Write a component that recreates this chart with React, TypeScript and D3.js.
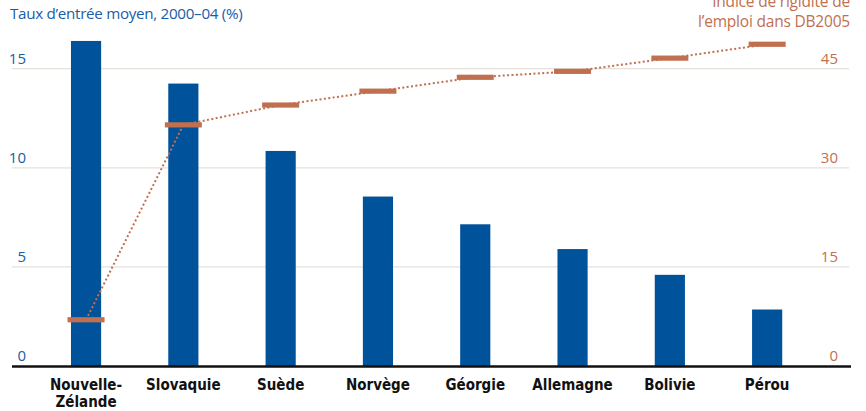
import React from "react";
import * as d3 from "d3";

const categories = ["Nouvelle-Zélande", "Slovaquie", "Suède", "Norvège", "Géorgie", "Allemagne", "Bolivie", "Pérou"];
const labelLines = [["Nouvelle-", "Zélande"], ["Slovaquie"], ["Suède"], ["Norvège"], ["Géorgie"], ["Allemagne"], ["Bolivie"], ["Pérou"]];
const entryRate = [16.4, 14.25, 10.85, 8.55, 7.15, 5.9, 4.6, 2.85];
const rigidityIndex = [7, 36.5, 39.5, 41.6, 43.7, 44.6, 46.6, 48.7];
const leftTicks = [0, 5, 10, 15];
const rightTicks = [0, 15, 30, 45];
const leftTitle = "Taux d’entrée moyen, 2000–04 (%)";
const rightTitle = ["Indice de rigidité de", "l’emploi dans DB2005"];

const W = 866;
const H = 411;
const BLUE = "#00529b";
const TXTBLUE = "#1a5ca6";
const ORANGE = "#c0704f";

export default function App() {
  const x = d3.scaleBand<string>().domain(categories).range([37.4, 815.8]).paddingInner(0.69).paddingOuter(0.345);
  const yL = d3.scaleLinear().domain([0, 15]).range([366, 68.7]);
  const yR = d3.scaleLinear().domain([0, 45]).range([366, 68.7]);
  const cx = (c: string) => (x(c) as number) + x.bandwidth() / 2;
  const line = d3.line<number>().x((_, i) => cx(categories[i])).y((d) => yR(d));
  const mw = 37;

  return (
    <svg width={W} height={H} style={{ position: "absolute", left: 0, top: 0, display: "block" }}>
      <rect width={W} height={H} fill="#fff" />
      {leftTicks.slice(1).map((t) => (
        <line key={t} x1={12} x2={849} y1={yL(t)} y2={yL(t)} stroke="#e6e0da" strokeWidth={1.2} />
      ))}
      {categories.map((c, i) => (
        <rect key={c} x={x(c)} y={yL(entryRate[i])} width={x.bandwidth()} height={yL(0) - yL(entryRate[i])} fill={BLUE} />
      ))}
      <line x1={12} x2={851} y1={366.5} y2={366.5} stroke="#111" strokeWidth={2.6} />
      <path d={line(rigidityIndex) || ""} fill="none" stroke={ORANGE} strokeWidth={2} strokeDasharray="2 2.4" />
      {categories.map((c, i) => (
        <rect key={c} x={cx(c) - mw / 2} y={yR(rigidityIndex[i]) - 2.6} width={mw} height={5.2} fill={ORANGE} />
      ))}
      <g fontFamily="'Open Sans', sans-serif" fontSize={15}>
        {leftTicks.map((t) => (
          <text key={t} x={26} y={yL(t) - 5} textAnchor="end" fill={TXTBLUE}>{t}</text>
        ))}
        {rightTicks.map((t) => (
          <text key={t} x={838} y={yR(t) - 5} textAnchor="end" fill={ORANGE}>{t}</text>
        ))}
        <text x={10} y={19} fill={TXTBLUE} fontSize={15.2} letterSpacing={-0.3}>{leftTitle}</text>
        <text x={850} y={7} textAnchor="end" fill={ORANGE} fontSize={15.5} letterSpacing={-0.2}>{rightTitle[0]}</text>
        <text x={850} y={27} textAnchor="end" fill={ORANGE} fontSize={15.5} letterSpacing={-0.2}>{rightTitle[1]}</text>
      </g>
      <g fontFamily="'DejaVu Sans Condensed', 'DejaVu Sans', sans-serif" fontWeight="bold" fontSize={15} fill="#111" textAnchor="middle">
        {categories.map((c, i) =>
          labelLines[i].map((l, j) => (
            <text key={c + j} x={cx(c)} y={390 + j * 17}>{l}</text>
          ))
        )}
      </g>
    </svg>
  );
}
